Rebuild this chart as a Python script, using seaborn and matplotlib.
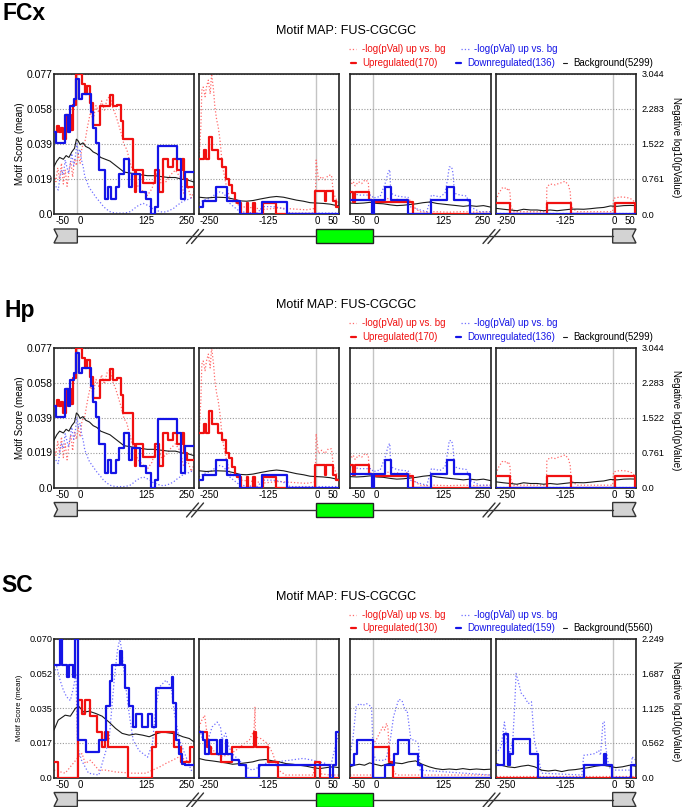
import matplotlib
matplotlib.use("Agg")
import matplotlib.pyplot as plt
from matplotlib.patches import Polygon, Rectangle
import seaborn as sns
import pandas as pd

# ---------------- data: FCx (Hp shows the same map) ----------------
FCX_COUNTS = (170, 136, 5299)
FCX_YMAX, FCX_RMAX = 0.077, 3.044
FCX_LEFT_TICKS = ["0.0", "0.019", "0.039", "0.058", "0.077"]
FCX_RIGHT_TICKS = ["0.0", "0.761", "1.522", "2.283", "3.044"]

# upregulated motif score (step), one list per panel
FCX_UP_EDGES = [
    [-50, -44, -40, -36, -31, -24, -14, -9, -3, 9, 16, 21, 27, 33, 49, 70, 77, 86, 93, 97,
     120, 123, 126, 141, 166, 176, 184, 195, 206, 213, 224, 229, 234, 250],
    [-250, -239, -234, -228, -222, -210, -200, -193, -186, -180, -173, -168, -159, -148, -144,
     -134, -130, -112, -84, -2, 19, 23, 37, 44, 50],
    [-50, -44, -39, -9, -4, 85, 250],
    [-250, -219, -140, -90, 5, 48, 50],
]
FCX_UP_VALS = [
    [0.045, 0.048, 0.045, 0.047, 0.041, 0.054, 0.046, 0.060, 0.077, 0.071, 0.066, 0.070, 0.061,
     0.049, 0.059, 0.065, 0.059, 0.060, 0.051, 0.041, 0.024, 0.012, 0.024, 0.017, 0.024, 0.012,
     0.030, 0.026, 0.030, 0.024, 0.030, 0.019, 0.015],
    [0.030, 0.035, 0.030, 0.042, 0.035, 0.030, 0.026, 0.019, 0.016, 0.0115, 0.007, 0.006, 0.0,
     0.006, 0.0, 0.006, 0.0, 0.006, 0.0, 0.0124, 0.007, 0.0124, 0.007, 0.004],
    [0.0122, 0.0068, 0.0122, 0.0077, 0.0064, 0.0],
    [0.0062, 0.0, 0.0062, 0.0, 0.0062, 0.0],
]
# downregulated motif score (step)
FCX_DN_EDGES = [
    [-50, -45, -27, -20, -15, -8, -3, 3, 10, 29, 34, 41, 47, 60, 66, 72, 82, 90, 100, 110, 118,
     135, 148, 158, 167, 173, 214, 222, 230, 250],
    [-250, -241, -213, -191, -162, -116, -62, 50],
    [-50, -4, 1, 25, 37, 74, 124, 158, 172, 206, 250],
    [-250, 50],
]
FCX_DN_VALS = [
    [0.045, 0.039, 0.054, 0.045, 0.059, 0.063, 0.074, 0.063, 0.066, 0.056, 0.047, 0.039, 0.024,
     0.008, 0.015, 0.008, 0.015, 0.022, 0.030, 0.015, 0.022, 0.012, 0.008, 0.0, 0.004, 0.0375,
     0.030, 0.008, 0.023],
    [0.004, 0.007, 0.015, 0.007, 0.0, 0.0068, 0.0],
    [0.0077, 0.0, 0.0077, 0.015, 0.0077, 0.0, 0.0077, 0.015, 0.0077, 0.0],
    [0.0],
]
# background motif score
FCX_BG_X = [
    [-50, -44, -38, -30, -24, -18, -12, -6, -2, 2, 6, 12, 18, 26, 34, 42, 50, 60, 70, 80, 90,
     100, 112, 124, 136, 150, 165, 180, 195, 210, 225, 238, 250],
    [-250, -234, -212, -191, -176, -162, -148, -134, -119, -98, -84, -69, -55, -41, -26, -12, 2,
     16, 31, 45, 50],
    [-50, -36, -21, -7, 7, 21, 36, 50, 64, 78, 92, 106, 121, 135, 149, 163, 178, 192, 206, 220,
     235, 250],
    [-250, -234, -219, -205, -191, -176, -162, -148, -134, -119, -105, -91, -76, -62, -48, -34,
     -19, -5, 9, 24, 38, 50],
]
FCX_BG_Y = [
    [0.026, 0.029, 0.031, 0.030, 0.032, 0.031, 0.034, 0.036, 0.041, 0.040, 0.038, 0.039, 0.037,
     0.036, 0.034, 0.033, 0.031, 0.030, 0.029, 0.027, 0.025, 0.023, 0.0225, 0.022, 0.0215, 0.021,
     0.021, 0.0205, 0.020, 0.020, 0.019, 0.0185, 0.0175],
    [0.0092, 0.0088, 0.0092, 0.0090, 0.0082, 0.0072, 0.0070, 0.0074, 0.0082, 0.0092, 0.0096,
     0.0092, 0.0084, 0.0076, 0.0070, 0.0062, 0.0060, 0.0058, 0.0054, 0.0046, 0.0044],
    [0.0060, 0.0058, 0.0060, 0.0064, 0.0058, 0.0056, 0.0050, 0.0046, 0.0048, 0.0052, 0.0056,
     0.0062, 0.0066, 0.0058, 0.0054, 0.0050, 0.0046, 0.0042, 0.0046, 0.0042, 0.0046, 0.0038],
    [0.0031, 0.0026, 0.0022, 0.0018, 0.0026, 0.0022, 0.0022, 0.0018, 0.0022, 0.0018, 0.0022,
     0.0026, 0.0027, 0.0026, 0.0029, 0.0033, 0.0036, 0.0044, 0.0042, 0.0046, 0.0047, 0.0046],
]
# -log10(p) up vs bg (right axis)
FCX_PUP_X = [
    [-50, -46, -42, -38, -34, -30, -26, -22, -18, -14, -10, -6, -2, 2, 6, 10, 16, 22, 28, 34,
     40, 46, 52, 58, 64, 70, 76, 82, 88, 94, 100, 106, 112, 118, 124, 130, 140, 150, 160, 170,
     180, 190, 200, 210, 220, 228, 236, 244, 250],
    [-250, -246, -244, -241, -237, -234, -230, -226, -223, -219, -216, -212, -209, -205, -201,
     -198, -194, -191, -187, -184, -176, -169, -162, -140, -110, -80, -50, -20, -2, 0, 1, 6,
     13, 20, 27, 34, 38, 45, 50],
    [-50, -46, -43, -39, -32, -25, -18, -11, -9, -4, 0, 7, 14, 21, 28, 35, 43, 50, 57, 64, 71,
     78, 85, 99, 114, 130, 160, 190, 220, 250],
    [-250, -244, -237, -232, -227, -223, -220, -218, -212, -180, -142, -141, -134, -123, -116,
     -109, -102, -95, -91, -89, -77, -40, 0, 2, 16, 30, 41, 50],
]
FCX_PUP_Y = [
    [0.85, 0.70, 1.00, 0.75, 1.10, 0.65, 0.95, 0.60, 0.90, 1.15, 0.80, 1.20, 1.05, 1.30, 1.10,
     1.45, 1.55, 1.90, 2.20, 2.05, 2.35, 2.20, 2.45, 2.25, 2.50, 2.55, 2.30, 2.15, 1.95, 1.75,
     1.50, 1.40, 1.15, 0.95, 0.75, 0.60, 0.50, 0.40, 0.55, 0.90, 0.65, 0.70, 0.85, 0.95, 0.80,
     0.45, 0.60, 0.35, 0.50],
    [1.17, 1.89, 2.68, 2.75, 2.54, 2.75, 2.90, 2.60, 3.04, 2.70, 2.32, 2.03, 1.90, 1.60, 1.17,
     0.95, 0.74, 0.59, 0.45, 0.30, 0.26, 0.23, 0.16, 0.14, 0.10, 0.13, 0.11, 0.09, 0.12, 0.6,
     1.17, 0.74, 0.81, 0.74, 0.84, 0.84, 0.45, 0.30, 0.23],
    [0.74, 0.66, 0.70, 0.61, 0.70, 0.66, 0.74, 0.70, 0.37, 0.27, 0.27, 0.25, 0.30, 0.30, 0.34,
     0.32, 0.30, 0.32, 0.30, 0.28, 0.32, 0.30, 0.16, 0.05, 0.04, 0.05, 0.04, 0.05, 0.04, 0.05],
    [0.30, 0.45, 0.56, 0.58, 0.52, 0.56, 0.45, 0.16, 0.05, 0.05, 0.05, 0.59, 0.65, 0.63, 0.66,
     0.68, 0.71, 0.63, 0.48, 0.16, 0.05, 0.05, 0.05, 0.34, 0.37, 0.36, 0.32, 0.23],
]
# -log10(p) down vs bg (right axis)
FCX_PDN_X = [
    [-50, -45, -41, -37, -34, -30, -26, -22, -19, -15, -12, -8, -5, -1, 2, 6, 9, 13, 16, 20,
     24, 29, 34, 40, 45, 50, 56, 63, 70, 77, 84, 91, 99, 106, 113, 120, 127, 134, 141, 148,
     156, 163, 170, 177, 184, 191, 198, 206, 213, 220, 227, 234, 242, 250],
    [-250, -241, -227, -212, -205, -198, -191, -184, -176, -162, -126, -112, -91, -70, -55, -30,
     0, 30, 50],
    [-50, -29, -4, 0, 7, 14, 25, 28, 32, 35, 37, 50, 64, 74, 78, 99, 114, 124, 142, 153, 158,
     162, 167, 170, 173, 185, 199, 206, 227, 250],
    [-250, 50],
]
FCX_PDN_Y = [
    [0.66, 0.58, 0.52, 0.80, 0.95, 0.85, 1.17, 1.00, 0.88, 1.10, 1.31, 1.05, 1.17, 1.53, 1.31,
     1.40, 1.17, 1.00, 0.81, 0.72, 0.60, 0.52, 0.45, 0.36, 0.30, 0.24, 0.16, 0.10, 0.05, 0.03,
     0.02, 0.02, 0.02, 0.03, 0.05, 0.10, 0.16, 0.20, 0.23, 0.20, 0.16, 0.10, 0.08, 0.05, 0.04,
     0.05, 0.08, 0.12, 0.18, 0.23, 0.28, 0.30, 0.34, 0.37],
    [0.23, 0.30, 0.34, 0.45, 0.48, 0.45, 0.37, 0.23, 0.16, 0.05, 0.02, 0.16, 0.16, 0.12, 0.02,
     0.02, 0.02, 0.02, 0.02],
    [0.45, 0.41, 0.41, 0.34, 0.37, 0.37, 0.66, 0.77, 0.92, 0.96, 0.45, 0.39, 0.37, 0.36, 0.16,
     0.09, 0.05, 0.41, 0.37, 0.45, 0.74, 1.02, 1.02, 0.88, 0.45, 0.41, 0.39, 0.16, 0.05, 0.05],
    [0.02, 0.02],
]

# ---------------- data: SC ----------------
SC_COUNTS = (130, 159, 5560)
SC_YMAX, SC_RMAX = 0.070, 2.249
SC_LEFT_TICKS = ["0.0", "0.017", "0.035", "0.052", "0.070"]
SC_RIGHT_TICKS = ["0.0", "0.562", "1.125", "1.687", "2.249"]

SC_UP_EDGES = [
    [-50, -41, 0.5, 10, 17, 28, 42, 53, 60, 66, 109, 161, 168, 208, 223, 241, 250],
    [-250, -233, -225, -202, -179, -132, -127, -103, -80, -2.5, 10, 50],
    [-50, -0.6, 34, 41.5, 250],
    [-250, 50],
]
SC_UP_VALS = [
    [0.008, 0.0, 0.039, 0.032, 0.039, 0.031, 0.023, 0.0155, 0.023, 0.0155, 0.0, 0.0155, 0.023,
     0.0155, 0.008, 0.0155],
    [0.023, 0.0155, 0.012, 0.008, 0.0155, 0.023, 0.0155, 0.008, 0.0, 0.008, 0.0],
    [0.0, 0.0155, 0.008, 0.0],
    [0.0],
]
SC_DN_EDGES = [
    [-50, -37, -32, -23, -17.5, -10, -4.6, 0.5, 18.5, 46, 62, 69, 75, 91, 95, 102, 111, 119.5,
     125, 138, 150.5, 161, 168.5, 203, 206, 212, 218, 225, 230, 250],
    [-250, -242, -238, -229, -211, -206, -200, -193, -190, -179, -164, -150, -121, 30, 37, 44, 50],
    [-50, -40.6, -35.5, -0.6, 24.8, 43, 51.7, 75.7, 95.3, 104.7, 250],
    [-250, -232, -225, -221, -214, -178, -160, -62, -19, -14, -2, 39, 50],
]
SC_DN_VALS = [
    [0.057, 0.070, 0.057, 0.051, 0.057, 0.051, 0.070, 0.019, 0.013, 0.019, 0.036, 0.049, 0.057,
     0.064, 0.057, 0.045, 0.036, 0.0256, 0.032, 0.0256, 0.032, 0.0256, 0.045, 0.051, 0.0375,
     0.019, 0.012, 0.007, 0.0062],
    [0.023, 0.019, 0.012, 0.019, 0.012, 0.019, 0.012, 0.019, 0.012, 0.0088, 0.0062, 0.0, 0.0062,
     0.0, 0.0062, 0.023],
    [0.0062, 0.012, 0.019, 0.0, 0.0062, 0.012, 0.019, 0.012, 0.0062, 0.0],
    [0.0062, 0.022, 0.0062, 0.012, 0.0194, 0.012, 0.0, 0.0062, 0.012, 0.0062, 0.0, 0.0062],
]
SC_BG_X = [
    [-50, -41, -26, -15, -4, 3, 14, 25, 39, 53, 68, 82, 96, 111, 125, 140, 154, 168, 183, 197,
     212, 226, 240, 250],
    [-250, -236, -222, -207, -193, -178, -164, -150, -135, -121, -107, -92, -78, -63, -49, -35,
     -20, -6, 9, 23, 37, 50],
    [-50, -41, -30, -19, -8, 3, 17, 32, 46, 61, 75, 90, 104, 119, 133, 148, 162, 177, 191, 206,
     220, 236, 250],
    [-250, -239, -225, -210, -196, -181, -167, -152, -138, -123, -109, -95, -80, -66, -51, -37,
     -22, -8, 7, 21, 36, 50],
]
SC_BG_Y = [
    [0.024, 0.029, 0.0315, 0.031, 0.035, 0.036, 0.033, 0.0335, 0.0324, 0.031, 0.028, 0.0248,
     0.0223, 0.0214, 0.022, 0.0214, 0.0206, 0.022, 0.023, 0.0225, 0.022, 0.0206, 0.0197, 0.018],
    [0.0096, 0.0088, 0.0084, 0.0079, 0.0074, 0.0067, 0.0070, 0.0074, 0.0079, 0.0088, 0.0091,
     0.0084, 0.0079, 0.0070, 0.0067, 0.0062, 0.0057, 0.0050, 0.0045, 0.0050, 0.0054, 0.0050],
    [0.0054, 0.0062, 0.0067, 0.0062, 0.0074, 0.0067, 0.0059, 0.0070, 0.0074, 0.0070, 0.0079,
     0.0084, 0.0067, 0.0054, 0.0045, 0.0040, 0.0043, 0.0040, 0.0045, 0.0040, 0.0043, 0.0040,
     0.0042],
    [0.0071, 0.0062, 0.0054, 0.0050, 0.0057, 0.0062, 0.0054, 0.0037, 0.0033, 0.0037, 0.0030,
     0.0037, 0.0040, 0.0045, 0.0050, 0.0057, 0.0062, 0.0057, 0.0050, 0.0054, 0.0062, 0.0057],
]
SC_PUP_X = [
    [-50, -26, 3, 10, 17, 28, 46, 60, 82, 118, 147, 161, 176, 190, 204, 219, 233, 250],
    [-250, -244, -238, -233, -225, -214, -202, -186, -171, -157, -142, -132, -130, -129, -117,
     -103, -92, -80, -64, -40, -5, -2, 9, 11, 30, 50],
    [-50, -1, 0, 6, 13, 20, 24, 28, 31, 35, 38, 45, 52, 80, 150, 250],
    [-250, 50],
]
SC_PUP_Y = [
    [0.12, 0.07, 0.34, 0.39, 0.23, 0.28, 0.12, 0.12, 0.09, 0.07, 0.07, 0.12, 0.17, 0.23, 0.28,
     0.34, 0.28, 0.17],
    [0.82, 0.93, 1.01, 0.72, 0.50, 0.39, 0.34, 0.37, 0.44, 0.53, 0.61, 0.77, 1.15, 0.66, 0.63,
     0.55, 0.39, 0.12, 0.04, 0.04, 0.04, 0.23, 0.24, 0.06, 0.04, 0.04],
    [0.04, 0.04, 0.55, 0.61, 0.72, 0.82, 0.77, 0.88, 0.80, 0.28, 0.23, 0.07, 0.04, 0.04, 0.04,
     0.04],
    [0.02, 0.02],
]
SC_PDN_X = [
    [-50, -44, -37, -30, -23, -15, -8, -3, 0.5, 9, 24, 46, 68, 79, 86, 91, 95, 102, 111, 119.5,
     132, 150.5, 161, 168.5, 176, 190, 201, 208, 219, 230, 244, 250],
    [-250, -242, -233, -222, -211, -204, -200, -193, -186, -179, -164, -150, -136, -121, -107,
     -78, -56, -27, -6, 20, 32, 37, 42, 50],
    [-50, -44, -37, -30, -23, -15, -4, -0.6, 6, 25, 28, 36, 43, 54, 61, 68, 72, 80, 88, 96, 100,
     250],
    [-250, -239, -232, -228, -225, -221, -214, -210, -207, -203, -196, -189, -181, -174, -168,
     -163, -152, -66, -62, -51, -37, -30, -26, -21, -18, -15, -8, 0, 39, 42, 44, 50],
]
SC_PDN_Y = [
    [1.69, 1.80, 1.58, 1.42, 1.31, 1.25, 1.47, 1.69, 0.50, 0.28, 0.07, 0.04, 0.61, 1.58, 2.07,
     2.249, 2.07, 1.58, 1.04, 0.61, 0.44, 0.33, 0.55, 1.15, 1.47, 1.58, 1.47, 1.04, 0.61, 0.39,
     0.12, 0.09],
    [0.82, 0.61, 0.55, 0.82, 0.90, 0.82, 0.61, 0.72, 0.50, 0.39, 0.28, 0.17, 0.12, 0.17, 0.23,
     0.26, 0.28, 0.31, 0.28, 0.23, 0.17, 0.34, 0.50, 0.72],
    [0.39, 0.61, 1.15, 1.20, 1.17, 1.20, 1.15, 0.39, 0.28, 0.28, 0.33, 0.61, 0.99, 1.27, 1.25,
     1.09, 1.09, 0.61, 0.61, 0.55, 0.12, 0.04],
    [0.39, 0.50, 0.90, 0.70, 0.50, 0.39, 0.61, 1.15, 1.69, 1.58, 1.37, 1.31, 1.20, 1.23, 0.61,
     0.44, 0.07, 0.04, 0.36, 0.37, 0.39, 0.44, 0.36, 0.88, 0.91, 0.50, 0.17, 0.12, 0.12, 0.34,
     0.31, 0.28],
]

# ---------------- shared axis layout ----------------
PANEL_LIMS = [(-50, 250), (-250, 50), (-50, 250), (-250, 50)]
XTICK_AT = [[-31, 7, 149, 234], [-229, -101, 3, 37], [-31, 7, 149, 234], [-229, -101, 3, 37]]
XTICK_LABELS = [["-50", "0", "125", "250"], ["-250", "-125", "0", "50"],
                ["-50", "0", "125", "250"], ["-250", "-125", "0", "50"]]
MOTIF = "Motif MAP: FUS-CGCGC"

# pixel layout
W, H = 685, 807
PANEL_X = [(54, 194), (199, 339), (350, 490.5), (496, 636)]
BREAKS_X = [196.5, 493]

RED = "#f01010"
BLUE = "#1414e6"
RED_DOT = "#ff6a6a"
BLUE_DOT = "#6f6fff"
BLACK = "#1a1a1a"

sns.set_theme(style="white")
plt.rcParams["font.family"] = ["Liberation Sans", "DejaVu Sans"]
plt.rcParams["text.color"] = "black"

fig = plt.figure(figsize=(W / 100, H / 100), dpi=100)
over = fig.add_axes([0, 0, 1, 1])
over.set_xlim(0, W)
over.set_ylim(H, 0)
over.axis("off")


def px_rect(x0, x1, y0, y1):
    return [x0 / W, 1 - y1 / H, (x1 - x0) / W, (y1 - y0) / H]


def steps(edges, vals):
    return pd.DataFrame({"x": edges, "y": list(vals) + [vals[-1]]})


def line_df(xs, ys):
    return pd.DataFrame({"x": xs, "y": ys})


def draw_block(top, bottom, name, name_xy, up_e, up_v, dn_e, dn_v, bg_x, bg_y,
               pu_x, pu_y, pd_x, pd_y, ymax, rmax, lticks, rticks, counts,
               ltick_fs, ylab_fs):
    axes = []
    for i, (x0, x1) in enumerate(PANEL_X):
        ax = fig.add_axes(px_rect(x0, x1, top, bottom))
        tw = ax.twinx()
        ax.set_zorder(tw.get_zorder() + 1)
        ax.patch.set_visible(False)

        tw.axvline(0, color="#c4c4c4", lw=1.0, zorder=0)
        sns.lineplot(data=line_df(pu_x[i], pu_y[i]), x="x", y="y", ax=tw, color=RED_DOT,
                     lw=0.9, linestyle=":", estimator=None)
        sns.lineplot(data=line_df(pd_x[i], pd_y[i]), x="x", y="y", ax=tw, color=BLUE_DOT,
                     lw=0.9, linestyle=":", estimator=None)
        sns.lineplot(data=line_df(bg_x[i], bg_y[i]), x="x", y="y", ax=ax, color=BLACK,
                     lw=0.8, estimator=None, zorder=3)
        sns.lineplot(data=steps(up_e[i], up_v[i]), x="x", y="y", ax=ax, color=RED, lw=1.6,
                     drawstyle="steps-post", estimator=None, zorder=3)
        sns.lineplot(data=steps(dn_e[i], dn_v[i]), x="x", y="y", ax=ax, color=BLUE, lw=1.6,
                     drawstyle="steps-post", estimator=None, zorder=3)

        ax.set_xlim(*PANEL_LIMS[i])
        ax.set_ylim(0, ymax)
        tw.set_ylim(0, rmax)
        ax.set_xlabel("")
        ax.set_ylabel("")
        tw.set_xlabel("")
        tw.set_ylabel("")

        ax.set_yticks([ymax * k / 4 for k in range(5)])
        ax.set_yticklabels(lticks)
        ax.grid(axis="y", ls=(0, (1, 1.5)), color="#9a9a9a", lw=0.8)
        ax.grid(axis="x", visible=False)
        ax.set_xticks(XTICK_AT[i])
        ax.set_xticklabels(XTICK_LABELS[i])
        ax.tick_params(axis="x", length=0, pad=1.5, labelsize=7, labelcolor="black")
        ax.tick_params(axis="y", length=0, pad=1, labelsize=ltick_fs, labelcolor="black",
                       labelleft=(i == 0))
        tw.set_yticks([rmax * k / 4 for k in range(5)])
        tw.set_yticklabels(rticks)
        tw.tick_params(axis="y", length=0, pad=4, labelsize=6.6, labelcolor="black",
                       labelright=(i == 3))
        tw.grid(False)
        for sp in ax.spines.values():
            sp.set_color("#222222")
            sp.set_linewidth(1.2)
        for sp in tw.spines.values():
            sp.set_visible(False)
        axes.append(ax)

    mid = (top + bottom) / 2
    over.text(name_xy[0], name_xy[1], name, fontsize=16.5, fontweight="bold", va="baseline")
    over.text(346, top - 39, MOTIF, fontsize=9, ha="center", va="baseline")
    over.text(20, mid, "Motif Score (mean)", fontsize=ylab_fs, rotation=90,
              ha="center", va="center")
    over.text(676, mid + 3, "Negative log10(pValue)", fontsize=7, rotation=270,
              ha="center", va="center")

    # legend, two rows
    y1, y2 = top - 24.5, top - 10.8
    over.plot([349, 356], [y1, y1], ls=":", color=RED_DOT, lw=0.9)
    over.text(362, y1, "-log(pVal) up vs. bg", color=RED, fontsize=7, va="center")
    over.plot([461, 469], [y1, y1], ls=":", color=BLUE_DOT, lw=0.9)
    over.text(474, y1, "-log(pVal) up vs. bg", color=BLUE, fontsize=7, va="center")
    over.plot([351, 356], [y2, y2], color=RED, lw=1.6)
    over.text(362, y2, f"Upregulated({counts[0]})", color=RED, fontsize=7, va="center")
    over.plot([456, 461], [y2, y2], color=BLUE, lw=1.6)
    over.text(467, y2, f"Downregulated({counts[1]})", color=BLUE, fontsize=7, va="center")
    over.plot([563, 567], [y2, y2], color=BLACK, lw=0.8)
    over.text(573, y2, f"Background({counts[2]})", color="black", fontsize=7, va="center")

    # exon / intron diagram under the panels
    def xpix(ax, v):
        return ax.transData.transform((v, 0))[0]

    b0, b1 = bottom + 15, bottom + 29
    bm = (b0 + b1) / 2
    xa, xb = xpix(axes[0], -50), xpix(axes[0], 0)
    xc, xd = xpix(axes[1], 0), xpix(axes[2], 0)
    xe, xf = xpix(axes[3], 0), xpix(axes[3], 50)
    over.plot([xb, xc], [bm, bm], color="#333333", lw=1.0)
    over.plot([xd, xe], [bm, bm], color="#333333", lw=1.0)
    over.add_patch(Polygon([(xa, b0), (xb, b0), (xb, b1), (xa, b1), (xa + 3.5, bm)],
                           closed=True, fc="#d3d3d3", ec="#333333", lw=1.0))
    over.add_patch(Polygon([(xe, b0), (xf, b0), (xf - 3.5, bm), (xf, b1), (xe, b1)],
                           closed=True, fc="#d3d3d3", ec="#333333", lw=1.0))
    over.add_patch(Rectangle((xc, b0), xd - xc, b1 - b0, fc="#00ff00", ec="#222222", lw=1.0))
    for bx in BREAKS_X:
        over.add_patch(Polygon([(bx - 9, b1), (bx + 1, b0 + 1), (bx + 6, b0 + 1), (bx - 4, b1)],
                               closed=True, fc="white", ec="none"))
        over.plot([bx - 10, bx + 2], [b1 + 0.5, b0 + 0.5], color="#333333", lw=1.0)
        over.plot([bx - 5, bx + 7], [b1 + 0.5, b0 + 0.5], color="#333333", lw=1.0)


draw_block(73.5, 214, "FCx", (3, 20), FCX_UP_EDGES, FCX_UP_VALS, FCX_DN_EDGES, FCX_DN_VALS,
           FCX_BG_X, FCX_BG_Y, FCX_PUP_X, FCX_PUP_Y, FCX_PDN_X, FCX_PDN_Y,
           FCX_YMAX, FCX_RMAX, FCX_LEFT_TICKS, FCX_RIGHT_TICKS, FCX_COUNTS, 7.5, 7)
draw_block(347.5, 487.5, "Hp", (4, 316.5), FCX_UP_EDGES, FCX_UP_VALS, FCX_DN_EDGES,
           FCX_DN_VALS, FCX_BG_X, FCX_BG_Y, FCX_PUP_X, FCX_PUP_Y, FCX_PDN_X, FCX_PDN_Y,
           FCX_YMAX, FCX_RMAX, FCX_LEFT_TICKS, FCX_RIGHT_TICKS, FCX_COUNTS, 7.5, 7)
draw_block(639, 777.5, "SC", (1, 592), SC_UP_EDGES, SC_UP_VALS, SC_DN_EDGES, SC_DN_VALS,
           SC_BG_X, SC_BG_Y, SC_PUP_X, SC_PUP_Y, SC_PDN_X, SC_PDN_Y,
           SC_YMAX, SC_RMAX, SC_LEFT_TICKS, SC_RIGHT_TICKS, SC_COUNTS, 6.6, 5.6)

fig.savefig("out.png", dpi=100)
